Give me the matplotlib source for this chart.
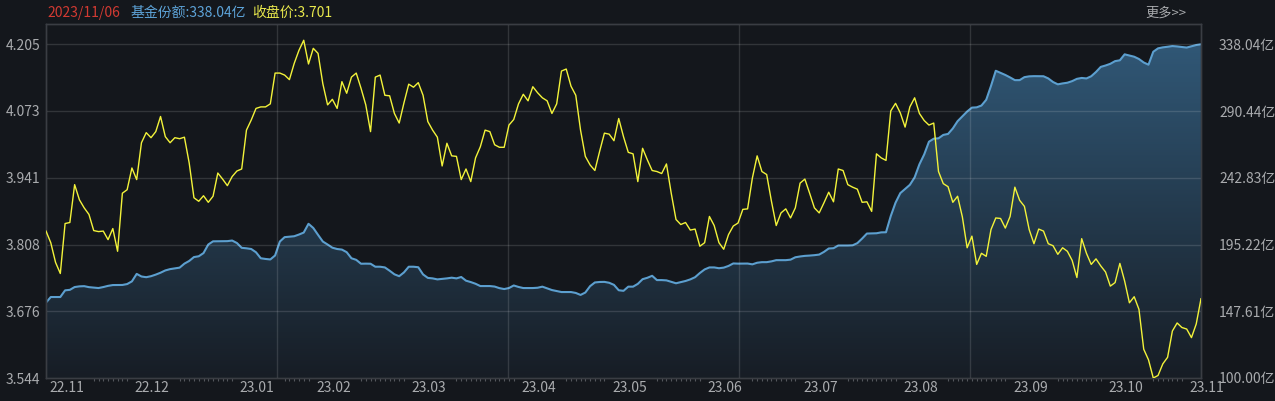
import numpy as np
import matplotlib.pyplot as plt
import matplotlib.transforms as mtransforms
from matplotlib.colors import LinearSegmentedColormap

plt.rcParams['font.family'] = ['Noto Sans CJK SC', 'DejaVu Sans']

# month labels and number of trading days shown in each month
months = ['22.11', '22.12', '23.01', '23.02', '23.03', '23.04', '23.05',
          '23.06', '23.07', '23.08', '23.09', '23.10', '23.11']
month_days = [18, 22, 16, 20, 23, 19, 20, 20, 21, 23, 20, 17, 4]

# closing price (收盘价), one value per trading day
price = [3.835, 3.812, 3.773, 3.751, 3.850, 3.852, 3.927, 3.897, 3.881, 3.868,
         3.836, 3.834, 3.835, 3.818, 3.840, 3.795, 3.910, 3.917, 3.960, 3.937,
         4.010, 4.030, 4.020, 4.032, 4.062, 4.022, 4.010, 4.020, 4.018, 4.021,
         3.970, 3.901, 3.894, 3.905, 3.892, 3.904, 3.950, 3.938, 3.925, 3.943,
         3.954, 3.958, 4.035, 4.055, 4.078, 4.081, 4.081, 4.087, 4.148, 4.148,
         4.144, 4.135, 4.167, 4.193, 4.213, 4.166, 4.197, 4.187, 4.127, 4.085,
         4.096, 4.078, 4.131, 4.108, 4.140, 4.148, 4.118, 4.085, 4.032, 4.140,
         4.144, 4.104, 4.103, 4.068, 4.049, 4.089, 4.126, 4.120, 4.129, 4.104,
         4.052, 4.035, 4.021, 3.964, 4.009, 3.984, 3.983, 3.937, 3.958, 3.933,
         3.980, 4.002, 4.035, 4.032, 4.006, 4.001, 4.001, 4.045, 4.056, 4.087,
         4.106, 4.093, 4.121, 4.109, 4.099, 4.093, 4.068, 4.087, 4.152, 4.156,
         4.122, 4.104, 4.035, 3.983, 3.966, 3.955, 3.993, 4.029, 4.027, 4.014,
         4.058, 4.022, 3.991, 3.988, 3.933, 3.999, 3.976, 3.955, 3.953, 3.949,
         3.968, 3.910, 3.858, 3.848, 3.852, 3.837, 3.839, 3.805, 3.812, 3.864,
         3.846, 3.812, 3.799, 3.828, 3.845, 3.851, 3.878, 3.879, 3.940, 3.984,
         3.953, 3.947, 3.894, 3.846, 3.871, 3.879, 3.861, 3.881, 3.930, 3.938,
         3.910, 3.881, 3.871, 3.891, 3.912, 3.893, 3.958, 3.955, 3.927, 3.922,
         3.918, 3.892, 3.893, 3.874, 3.988, 3.980, 3.975, 4.073, 4.088, 4.069,
         4.041, 4.081, 4.099, 4.068, 4.054, 4.045, 4.049, 3.953, 3.929, 3.923,
         3.892, 3.904, 3.863, 3.802, 3.825, 3.769, 3.791, 3.785, 3.838, 3.861,
         3.860, 3.841, 3.864, 3.922, 3.896, 3.884, 3.838, 3.810, 3.839, 3.835,
         3.810, 3.806, 3.789, 3.802, 3.795, 3.777, 3.743, 3.820, 3.791, 3.769,
         3.780, 3.766, 3.754, 3.726, 3.733, 3.771, 3.736, 3.693, 3.705, 3.680,
         3.601, 3.580, 3.544, 3.549, 3.572, 3.585, 3.637, 3.653, 3.644, 3.641,
         3.624, 3.651, 3.701]

# fund shares (基金份额), 亿份
share = [153.78, 157.76, 157.76, 157.76, 162.52, 162.88, 164.87, 165.36, 165.51, 164.80,
         164.51, 164.16, 164.87, 165.72, 166.29, 166.29, 166.36, 167.00, 168.92, 174.25,
         172.40, 171.90, 172.61, 173.75, 175.10, 176.73, 177.66, 178.15, 178.72, 181.57,
         183.48, 186.26, 186.82, 189.10, 195.21, 197.48, 197.55, 197.55, 197.62, 198.05,
         196.28, 192.86, 192.51, 192.01, 189.67, 185.40, 184.91, 184.55, 187.39, 197.34,
         200.47, 200.82, 201.11, 202.32, 203.74, 209.99, 207.01, 202.10, 197.34, 195.21,
         192.94, 192.01, 191.59, 189.74, 185.40, 184.27, 181.50, 181.57, 181.50, 179.37,
         179.37, 178.87, 176.52, 173.96, 172.61, 175.31, 179.37, 179.37, 179.01, 173.89,
         171.40, 171.05, 170.34, 170.69, 171.05, 171.55, 171.05, 172.04, 169.41, 168.42,
         167.21, 165.58, 165.58, 165.58, 165.22, 164.09, 163.45, 164.16, 166.00, 164.94,
         164.16, 164.16, 164.16, 164.37, 165.15, 163.94, 162.73, 162.02, 161.31, 161.31,
         161.31, 160.67, 159.25, 160.96, 165.51, 168.14, 168.49, 168.56, 167.92, 166.43,
         162.59, 162.17, 165.15, 165.15, 167.14, 170.48, 171.48, 172.90, 169.84, 169.84,
         169.63, 168.56, 167.57, 168.35, 169.20, 170.34, 171.90, 174.89, 177.44, 178.87,
         178.87, 178.30, 178.72, 179.93, 181.71, 181.57, 181.57, 181.64, 181.07, 182.21,
         182.63, 182.63, 183.20, 184.05, 184.05, 184.05, 184.41, 186.11, 186.68, 187.11,
         187.32, 187.61, 188.03, 189.95, 192.37, 192.58, 194.50, 194.50, 194.50, 194.64,
         196.20, 199.47, 203.03, 203.17, 203.24, 203.88, 203.95, 215.53, 225.05, 231.88,
         234.79, 237.77, 243.10, 252.41, 259.45, 268.54, 270.68, 270.96, 273.38, 274.09,
         277.99, 283.18, 286.66, 290.07, 292.85, 293.06, 294.34, 298.46, 308.34, 319.14,
         317.65, 316.15, 314.38, 312.46, 312.46, 314.59, 315.16, 315.30, 315.30, 315.23,
         313.67, 311.11, 309.47, 310.11, 310.61, 311.75, 313.38, 314.02, 313.67, 315.23,
         318.29, 321.91, 322.90, 324.11, 326.03, 326.60, 330.86, 330.01, 329.16, 327.52,
         325.04, 323.47, 332.71, 335.13, 335.84, 336.26, 336.76, 336.48, 336.05, 335.69,
         336.60, 337.50, 338.04]

price_ticks = [3.544, 3.676, 3.808, 3.941, 4.073, 4.205]
share_ticks = [100.00, 147.61, 195.22, 242.83, 290.44, 338.04]

bg = '#14171c'
edge = '#3a3d43'
txt = '#a9abae'

x = np.arange(len(price))
n = len(price)

fig = plt.figure(figsize=(12.75, 4.01), dpi=100, facecolor=bg)
ax = fig.add_axes([46 / 1275, 23 / 401, 1155 / 1275, 354 / 401])
ax.set_facecolor(bg)

# fund share area (right axis)
ax.set_xlim(0, n - 1)
ax.set_ylim(100.0, 352.5)
fill = ax.fill_between(x, share, 100.0, color='none', lw=0)
cmap = LinearSegmentedColormap.from_list('g', ['#171d25', '#325b7b'])
grad = np.linspace(0, 1, 256).reshape(-1, 1)
img = ax.imshow(grad, extent=[0, n - 1, 100.0, 352.5], aspect='auto',
                origin='lower', cmap=cmap, zorder=1)
img.set_clip_path(fill.get_paths()[0], transform=ax.transData)
ax.plot(x, share, color='#5c9fcf', lw=1.5, zorder=2)

# price line (left axis), drawn on top
axp = ax.twinx()
axp.set_ylim(3.544, 4.2452)

ax.yaxis.tick_right()
ax.set_yticks(share_ticks)
ax.set_yticklabels(['%.2f亿' % v for v in share_ticks])
ax.tick_params(axis='y', length=0, pad=13, labelsize=10, labelcolor=txt,
               left=False, labelleft=False, right=True, labelright=True)

axp.yaxis.tick_left()
axp.set_yticks(price_ticks)
axp.set_yticklabels(['%.3f' % v for v in price_ticks])
axp.tick_params(axis='y', length=0, pad=4, labelsize=10, labelcolor=txt,
                left=True, labelleft=True, right=False, labelright=False)

for v in price_ticks[1:]:
    axp.axhline(v, color='white', alpha=0.13, lw=1, zorder=1)
for k in range(1, 5):
    axp.axvline(k * (n - 1) / 5, color='white', alpha=0.13, lw=1, zorder=1)

axp.plot(x, price, color='#f3f33a', lw=1.0, zorder=3)

# month ticks and labels
starts = np.concatenate([[0], np.cumsum(month_days)[:-1]])
ax.set_xticks(starts)
ax.set_xticklabels([])
ax.tick_params(axis='x', which='major', direction='out', length=16.5,
               color=edge, width=1)
minor = [s + d for s, m in zip(starts, month_days) for d in range(10, m)]
ax.set_xticks(minor, minor=True)
ax.tick_params(axis='x', which='minor', direction='out', length=2.2,
               color='#55585d', width=0.8)
axp.set_xticks([])

off = mtransforms.offset_copy(ax.get_xaxis_transform(), fig=fig, x=3, y=-10, units='dots')
for s, m in zip(starts, months):
    ax.text(s, 0, m, transform=off, ha='left', va='center', fontsize=10, color=txt)

for a in (ax, axp):
    for sp in a.spines.values():
        sp.set_color(edge)
        sp.set_linewidth(1)

# header
fig.text(47 / 1275, 1 - 13 / 401, '2023/11/06', color='#d23a32', fontsize=10, va='center')
fig.text(131 / 1275, 1 - 13 / 401, '基金份额:338.04亿', color='#5da3d8', fontsize=10, va='center')
fig.text(252 / 1275, 1 - 13 / 401, '收盘价:3.701', color='#e8e84c', fontsize=10, va='center')
fig.text(1145 / 1275, 1 - 13 / 401, '更多>>', color=txt, fontsize=9.5, va='center')

fig.savefig('out.png', dpi=100, facecolor=bg)
